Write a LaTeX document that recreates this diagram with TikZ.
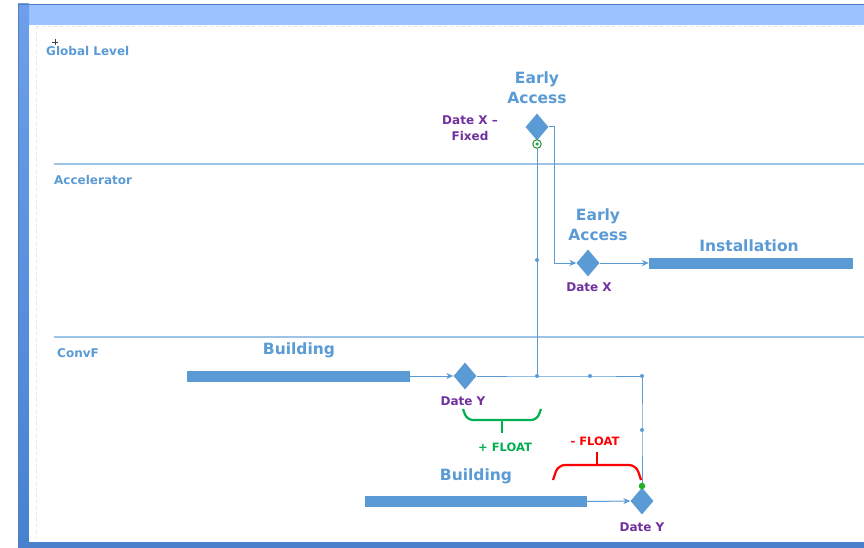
\documentclass[tikz,border=0pt]{standalone}
\usepackage{fontspec}
\setmainfont{DejaVu Sans}
\usetikzlibrary{shapes.geometric,arrows.meta,calc}
\definecolor{cblue}{HTML}{5B9BD5}
\definecolor{clane}{HTML}{9DC3E6}
\definecolor{cpurple}{HTML}{7030A0}
\definecolor{cgreen}{HTML}{00B050}
\definecolor{cred}{HTML}{FF0000}
\definecolor{ctop}{HTML}{9CC2FF}
\definecolor{cframe}{HTML}{4F80C4}
\definecolor{cleftt}{HTML}{6E9FEA}
\definecolor{cleftb}{HTML}{4682D0}
\definecolor{cbot}{HTML}{4A80CC}
\definecolor{cdash}{HTML}{E6E6E6}
\definecolor{ccur}{HTML}{404040}
\definecolor{cgring}{HTML}{2E8B2E}
\definecolor{cgdot}{HTML}{22B022}
\tikzset{
  ms/.style={diamond,fill=cblue,draw=none,minimum width=23pt,minimum height=27pt,inner sep=0pt},
  bar/.style={rectangle,fill=cblue,draw=none,inner sep=0pt,minimum height=11pt},
  conn/.style={draw=cblue,line width=1pt},
  arr/.style={conn,-{Stealth[length=7pt,width=6pt]}},
  jdot/.style={circle,fill=cblue,inner sep=0pt,minimum size=4pt},
  lane/.style={draw=clane,line width=1.5pt},
  lanelbl/.style={anchor=west,text=cblue,font=\bfseries\fontsize{12}{14}\selectfont,inner sep=0pt},
  big/.style={text=cblue,font=\bfseries\fontsize{15.5}{20}\selectfont,align=center,inner sep=0pt},
  date/.style={text=cpurple,font=\bfseries\fontsize{12}{16}\selectfont,align=center,inner sep=0pt},
  flt/.style={font=\bfseries\fontsize{11.5}{12}\selectfont,inner sep=0pt},
}
\begin{document}
\begin{tikzpicture}[x=1pt,y=-1pt]
\useasboundingbox (0,0) rectangle (864,548);
% frame
\fill[white] (0,0) rectangle (864,548);
\fill[ctop] (18,4) rectangle (864,25);
\shade[top color=cleftt,bottom color=cleftb] (18,4) rectangle (29,548);
\fill[cbot] (18,542) rectangle (864,548);
\fill[white] (29,25) rectangle (864,542);
\draw[cframe,line width=1pt] (18,548) -- (18,4.5) -- (864,4.5);
\draw[cdash,dashed,line width=0.6pt] (36,26) -- (36,537);
\draw[cdash,dashed,line width=0.6pt] (36,26) -- (864,26);
% lanes
\draw[lane] (54,164) -- (864,164);
\draw[lane] (54,337) -- (864,337);
\node[lanelbl] (gl) at (46,51) {Global Level};
\node[lanelbl] (acc) at (54,180) {Accelerator};
\node[lanelbl] (cf) at (57,353) {ConvF};
% cursor
\draw[ccur,line width=0.6pt] (52,42) -- (58,42) (55,39) -- (55,45);
% milestones
\node[ms] (d1) at (537,127) {};
\node[ms] (d2) at (588,263) {};
\node[ms] (d3) at (465,376) {};
\node[ms] (d4) at (642,501) {};
\node[big] (ea1) at (537,88) {Early\\Access};
\node[big] (ea2) at (598,225) {Early\\Access};
\node[date] (dx1) at (470,128) {Date X --\\Fixed};
\node[date] (dx2) at (589,287) {Date X};
\node[date] (dy1) at (463,401) {Date Y};
\node[date] (dy2) at (642,527) {Date Y};
% bars
\node[bar,minimum width=204pt] (inst) at (751,263) {};
\node[bar,minimum width=223pt] (b1) at (298.5,376) {};
\node[bar,minimum width=222pt] (b2) at (476,501.5) {};
\node[big] (linst) at (749,246) {Installation};
\node[big] (lb1) at (299,350) {Building};
\node[big] (lb2) at (476,476) {Building};
% green markers
\node[circle,draw=cgring,fill=white,line width=1pt,inner sep=0pt,minimum size=8.5pt] (gc) at (537,144) {};
\node[circle,fill=cgreen,inner sep=0pt,minimum size=3.5pt] at (gc) {};
\node[circle,fill=cgdot,inner sep=0pt,minimum size=6.5pt] (gd) at (642,486) {};
% junctions
\coordinate (j1) at (537,376);
\coordinate (j2) at (590,376);
\coordinate (j3) at (642,376);
\coordinate (j4) at (642,430);
\coordinate (j5) at (537,260);
\coordinate (c1) at (554,127);
% connectors
\draw[arr] (d1.east) -- (c1) |- (d2.west);
\draw[arr] (d2.east) -- (inst.west);
\draw[arr] (b1.east) -- (d3.west);
\draw[arr] (b2.east) -- (d4.west);
\draw[conn] (gc.south) -- (j1);
\draw[conn] (d3.east) -- (j1) -- (j2) -- (j3) -- (j4) -- (gd.north);
\foreach \p in {j1,j2,j3,j4,j5} \node[jdot] at (\p) {};
% brackets
\draw[cgreen,line width=2.2pt,rounded corners=6pt] (463,409) -- (467,420) -- (537,420) -- (541,409);
\draw[cgreen,line width=2.2pt] (502,420) -- (502,433);
\node[flt,text=cgreen] (pf) at (505,447) {+ FLOAT};
\draw[cred,line width=2.2pt,rounded corners=7pt] (553,480) -- (558,465) -- (636,465) -- (641,480);
\draw[cred,line width=2.2pt] (597,452) -- (597,465);
\node[flt,text=cred] (mf) at (595,441) {- FLOAT};
\end{tikzpicture}
\end{document}
